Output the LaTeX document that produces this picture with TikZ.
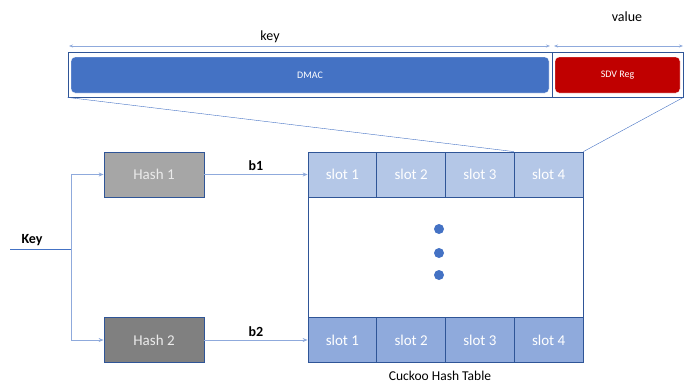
\documentclass[tikz,border=0pt]{standalone}
\usepackage{fontspec}
\setmainfont{Carlito}
\usetikzlibrary{positioning,arrows.meta}

\definecolor{edgeblue}{HTML}{2F5597}
\definecolor{lineblue}{HTML}{4472C4}
\definecolor{paleblue}{HTML}{B4C7E7}
\definecolor{midblue}{HTML}{8FAADC}
\definecolor{regred}{HTML}{C00000}

\tikzset{
  hashbox/.style={draw=edgeblue, thick, minimum width=100pt, minimum height=45pt,
    text=white!92!black, font=\fontsize{15}{17}\selectfont},
  slotbox/.style={draw=edgeblue, thick, minimum width=68.75pt, minimum height=45pt,
    text=white, font=\fontsize{15}{17}\selectfont},
  link/.style={draw=midblue, thick},
  linkarrow/.style={link, -{Stealth[length=5pt,width=4pt]}},
  dimarrow/.style={draw=midblue, thick, {Stealth[length=4pt,width=3pt]}-{Stealth[length=4pt,width=3pt]}},
  lbl/.style={font=\fontsize{14}{16}\selectfont},
}

\begin{document}
\begin{tikzpicture}[x=1pt, y=-1pt]
  \useasboundingbox (0,0) rectangle (684,383);

  % entry record on top
  \node[draw=edgeblue, thick, minimum width=615pt, minimum height=45pt] (bar) at (375.5,74.5) {};
  \node[fill=lineblue, draw=white, rounded corners=4pt, minimum width=478pt, minimum height=36pt,
    text=white, font=\fontsize{10}{12}\selectfont] (dmac) at (310,75) {DMAC};
  \node[fill=regred, draw=white, rounded corners=4pt, minimum width=125pt, minimum height=36pt,
    text=white, font=\fontsize{10}{12}\selectfont] (sdv) at (617.5,75) {SDV Reg};
  \draw[draw=edgeblue, thin] (552,52) -- (552,97);

  \coordinate (k0) at (69,46);
  \coordinate (k1) at (550,46);
  \coordinate (v0) at (554,46);
  \coordinate (v1) at (683,46);
  \draw[dimarrow] (k0) -- (k1);
  \draw[dimarrow] (v0) -- (v1);
  \node[lbl] (keytxt) at (270,37) {key};
  \node[lbl] (valtxt) at (627,17) {value};

  % cuckoo table
  \node[draw=edgeblue, thick, minimum width=275pt, minimum height=210pt] (tbl) at (445.5,257) {};
  \foreach \i in {1,...,4} {
    \node[slotbox, fill=paleblue] (s1-\i) at (308+68.75*\i-34.375,174.5) {slot \i};
    \node[slotbox, fill=midblue] (s2-\i) at (308+68.75*\i-34.375,340) {slot \i};
  }
  \foreach \y in {229,253,275}
    \fill[lineblue] (439,\y) circle (5pt);
  \node[font=\fontsize{13.5}{15}\selectfont, inner sep=1pt, anchor=south] (tbltxt) at (440,382) {Cuckoo Hash Table};

  % zoom lines
  \draw[draw=lineblue] (bar.south west) -- (s1-4.north west);
  \draw[draw=lineblue] (bar.south east) -- (s1-4.north east);

  % hash functions
  \node[hashbox, fill=black!35] (hash1) at (154,174.5) {Hash 1};
  \node[hashbox, fill=black!50] (hash2) at (154,340) {Hash 2};

  \coordinate (keyin) at (10,249);
  \coordinate (split) at (71,249);
  \draw[draw=lineblue, thick] (keyin) -- (split);
  \node[lbl, font=\fontsize{14}{16}\selectfont\bfseries, anchor=south] (keytag) at (32,249) {Key};
  \draw[link] (split) -- (71,174.5);
  \draw[link] (split) -- (71,340);
  \draw[linkarrow] (71,174.5) -- (hash1.west);
  \draw[linkarrow] (71,340) -- (hash2.west);

  \draw[linkarrow] (hash1.east) -- node[above, lbl, font=\fontsize{14}{16}\selectfont\bfseries] {b1} (s1-1.west);
  \draw[linkarrow] (hash2.east) -- node[above, lbl, font=\fontsize{14}{16}\selectfont\bfseries] {b2} (s2-1.west);
\end{tikzpicture}
\end{document}
